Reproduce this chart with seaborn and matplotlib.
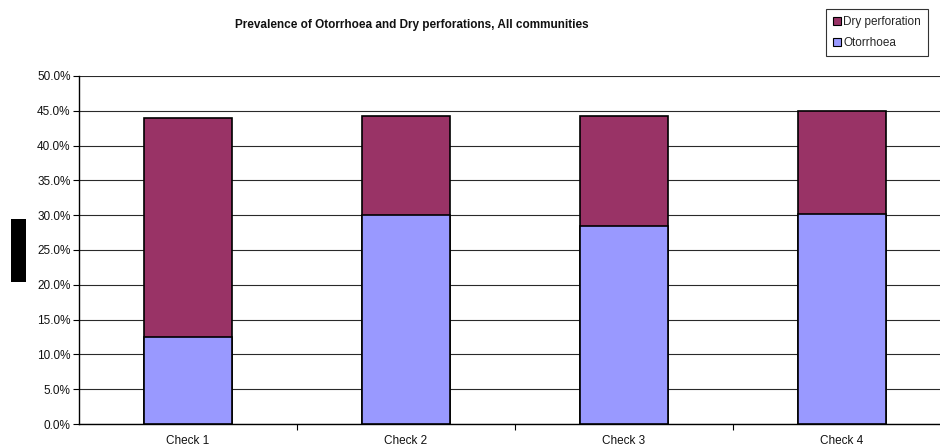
import matplotlib
matplotlib.use("Agg")
import matplotlib.pyplot as plt
from matplotlib.patches import Patch, Rectangle
from matplotlib.ticker import PercentFormatter, FixedLocator
import seaborn as sns
import pandas as pd

# Prevalence (%) by survey round
checks = ["Check 1", "Check 2", "Check 3", "Check 4"]
otorrhoea = [12.5, 30.0, 28.4, 30.2]
dry_perforation = [31.4, 14.2, 15.8, 14.7]

series_names = ["Dry perforation", "Otorrhoea"]
series_colors = ["#993366", "#9999FF"]
title = "Prevalence of Otorrhoea and Dry perforations, All communities"

sns.set_theme(style="white")
plt.rcParams["font.family"] = ["Liberation Sans", "DejaVu Sans"]

df = pd.DataFrame({"check": checks, "otorrhoea": otorrhoea, "dry": dry_perforation})
df["total"] = df["otorrhoea"] + df["dry"]

fig = plt.figure(figsize=(9.4, 4.48), dpi=100)
ax = fig.add_axes([79 / 940, 1 - 424 / 448, 872 / 940, 348 / 448])

# stacked bars: full height in the top colour, lower segment drawn over it
sns.barplot(data=df, x="check", y="total", color=series_colors[0], width=0.4,
            edgecolor="black", linewidth=1.2, saturation=1, ax=ax, zorder=3)
sns.barplot(data=df, x="check", y="otorrhoea", color=series_colors[1], width=0.4,
            edgecolor="black", linewidth=1.2, saturation=1, ax=ax, zorder=4)

ax.set_xlim(-0.5, 3.5)
ax.set_ylim(0, 50)
ax.set_yticks(range(0, 51, 5))
ax.yaxis.set_major_formatter(PercentFormatter(xmax=100, decimals=1))
ax.grid(axis="y", color="#2a2a2a", linewidth=0.8, zorder=0)
ax.set_axisbelow(True)
ax.set_xlabel("")
ax.set_ylabel("")

for side in ["top", "right"]:
    ax.spines[side].set_visible(False)
for side in ["left", "bottom"]:
    ax.spines[side].set_visible(True)
    ax.spines[side].set_color("black")
    ax.spines[side].set_linewidth(1.0)

ax.tick_params(axis="y", which="major", direction="out", length=4, width=0.8,
               color="black", labelsize=8.5, labelcolor="#111111", pad=2, left=True)
ax.tick_params(axis="x", which="major", length=0, labelsize=8.5,
               labelcolor="#111111", pad=8)
ax.xaxis.set_minor_locator(FixedLocator([0.5, 1.5, 2.5]))
ax.tick_params(axis="x", which="minor", direction="out", length=4, width=0.8,
               color="black", bottom=True)

fig.text(412 / 940, 1 - 25 / 448, title, ha="center", va="center",
         fontsize=8.5, fontweight="bold", color="#111111")

handles = [Patch(facecolor=c, edgecolor="black", linewidth=0.8) for c in series_colors]
leg = fig.legend(handles, series_names, loc="upper left",
                 bbox_to_anchor=(826 / 940, 1 - 9 / 448), bbox_transform=fig.transFigure,
                 fontsize=8.5, frameon=True, fancybox=False, handlelength=0.65,
                 handleheight=0.65, handletextpad=0.2, labelspacing=0.75,
                 borderpad=0.6, borderaxespad=0)
leg.get_frame().set_edgecolor("black")
leg.get_frame().set_linewidth(0.8)

fig.patches.append(Rectangle((11 / 940, 1 - 282 / 448), 15 / 940, 63 / 448,
                             transform=fig.transFigure, facecolor="black",
                             edgecolor="none"))

fig.savefig("out.png", dpi=100)
